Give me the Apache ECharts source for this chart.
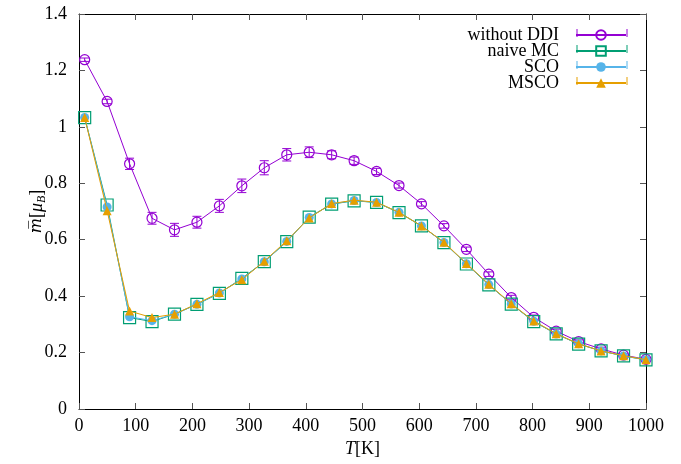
<!DOCTYPE html>
<html><head><meta charset="utf-8">
<script src="https://cdn.jsdelivr.net/npm/echarts@6/dist/echarts.min.js"></script>
<style>html,body{margin:0;padding:0;background:#fff}#c{width:681px;height:464px}</style>
</head><body><div id="c"></div>
<script>
const temperatures = [10,49.6,89.2,128.8,168.4,208,247.6,287.2,326.8,366.4,406,445.6,485.2,524.8,564.4,604,643.6,683.2,722.8,762.4,802,841.6,881.2,920.8,960.4,1000];
const mWithoutDDI = [1.238,1.090,0.869,0.676,0.635,0.662,0.720,0.791,0.855,0.901,0.910,0.901,0.880,0.842,0.792,0.727,0.649,0.566,0.478,0.395,0.325,0.276,0.239,0.213,0.191,0.176];
const errWithoutDDI = [0.006,0.008,0.020,0.021,0.023,0.021,0.023,0.024,0.025,0.022,0.019,0.014,0.013,0.011,0.009,0.008,0.008,0.008,0.008,0.008,0.008,0.007,0.006,0.006,0.005,0.005];
const mNaiveMC = [1.033,0.723,0.324,0.310,0.336,0.371,0.410,0.463,0.522,0.593,0.680,0.726,0.738,0.732,0.696,0.649,0.590,0.514,0.440,0.372,0.310,0.266,0.230,0.206,0.188,0.174];
const mSCO     = [1.033,0.716,0.327,0.313,0.336,0.371,0.411,0.461,0.522,0.594,0.679,0.727,0.739,0.732,0.697,0.649,0.590,0.515,0.441,0.372,0.311,0.266,0.231,0.206,0.188,0.175];
const mMSCO    = [1.033,0.703,0.347,0.324,0.336,0.373,0.413,0.458,0.524,0.596,0.677,0.728,0.740,0.733,0.697,0.649,0.591,0.516,0.442,0.373,0.312,0.267,0.231,0.206,0.189,0.175];
const seriesNames = ['without DDI','naive MC','SCO','MSCO'];
const xTicks = {min:0,max:1000,interval:100};
const yTicks = {min:0,max:1.4,interval:0.2};

const colors = {purple:'#9400d3', green:'#009e73', blue:'#56b4e9', orange:'#e69f00'};
const serif = '"Liberation Serif","DejaVu Serif",serif';
const FS = 18;

const chart = echarts.init(document.getElementById('c'), null, {renderer:'canvas'});
const pair = (arr)=>temperatures.map((t,i)=>[t,arr[i]]);

function errRender(color, capW){
  return function(params, api){
    const x = api.value(0), y = api.value(1), e = api.value(2);
    const lo = api.coord([x, y-e]), hi = api.coord([x, y+e]);
    const st = {stroke: color, lineWidth: 1};
    return {type:'group', children:[
      {type:'line', shape:{x1:lo[0],y1:lo[1],x2:hi[0],y2:hi[1]}, style:st},
      {type:'line', shape:{x1:lo[0]-capW,y1:lo[1],x2:lo[0]+capW,y2:lo[1]}, style:st},
      {type:'line', shape:{x1:hi[0]-capW,y1:hi[1],x2:hi[0]+capW,y2:hi[1]}, style:st}
    ]};
  };
}

const axisCommon = {
  axisLine:{show:true,onZero:false,lineStyle:{color:'#000',width:1}},
  axisTick:{show:true,inside:true,length:6,lineStyle:{color:'#555',width:1}},
  splitLine:{show:false}
};

const legendRows = [33,49,65,81];
const graphics = [];
legendRows.forEach((y,i)=>{
  const c = [colors.purple,colors.green,colors.blue,colors.orange][i];
  [577,627].forEach(x=>graphics.push({type:'line',shape:{x1:x,y1:y-4,x2:x,y2:y+4},style:{stroke:c,lineWidth:1},z:100}));
});

chart.setOption({
  animation:false,
  backgroundColor:'#fff',
  textStyle:{fontFamily:serif},
  grid:{left:79,top:14,right:35,bottom:55,containLabel:false},
  legend:{
    data:seriesNames, orient:'vertical', right:49, top:21, align:'right',
    itemWidth:50, itemHeight:12, itemGap:-2, padding:5,
    textStyle:{fontFamily:serif,fontSize:FS,color:'#000',padding:[0,12,0,0]}
  },
  xAxis:[
    Object.assign({type:'value',position:'bottom',min:xTicks.min,max:xTicks.max,interval:xTicks.interval,
      axisLabel:{color:'#000',fontFamily:serif,fontSize:FS,margin:8,formatter:v=>String(v)},
      name:'{i|T}{n|[K]}', nameLocation:'middle', nameGap:31, nameMoveOverlap:false,
      nameTextStyle:{rich:{i:{fontFamily:serif,fontStyle:'italic',fontSize:FS,color:'#000'},n:{fontFamily:serif,fontSize:FS,color:'#000'}}}
    }, axisCommon),
    Object.assign({type:'value',position:'top',min:xTicks.min,max:xTicks.max,interval:xTicks.interval,axisLabel:{show:false}}, axisCommon)
  ],
  yAxis:[
    Object.assign({type:'value',position:'left',min:yTicks.min,max:yTicks.max,interval:yTicks.interval,
      axisLabel:{color:'#000',fontFamily:serif,fontSize:FS,margin:12},
      name:'{o|m\u0305}{n|[}{i|\u03bc}{s|B}{n|]}', nameLocation:'middle', nameGap:31, nameRotate:90, nameMoveOverlap:false,
      nameTextStyle:{rich:{
        o:{fontFamily:'"DejaVu Serif"',fontStyle:'italic',fontSize:16,color:'#000',lineHeight:22},
        i:{fontFamily:serif,fontStyle:'italic',fontSize:FS,color:'#000',lineHeight:22},
        n:{fontFamily:serif,fontSize:FS,color:'#000',lineHeight:22},
        s:{fontFamily:serif,fontStyle:'italic',fontSize:12,color:'#000',verticalAlign:'bottom',lineHeight:14,padding:[7,0,0,0]}
      }}
    }, axisCommon),
    Object.assign({type:'value',position:'right',min:yTicks.min,max:yTicks.max,interval:yTicks.interval,axisLabel:{show:false}}, axisCommon)
  ],
  series:[
    {name:seriesNames[0],type:'line',data:pair(mWithoutDDI),symbol:'circle',symbolSize:10,
      itemStyle:{color:'rgba(255,255,255,0)',borderColor:colors.purple,borderWidth:1.2},
      lineStyle:{color:colors.purple,width:1},z:2},
    {name:seriesNames[0]+' err',type:'custom',data:temperatures.map((t,i)=>[t,mWithoutDDI[i],errWithoutDDI[i]]),
      renderItem:errRender(colors.purple,4.5),z:3},
    {name:seriesNames[1],type:'line',data:pair(mNaiveMC),symbol:'rect',symbolSize:12,
      itemStyle:{color:'rgba(255,255,255,0)',borderColor:colors.green,borderWidth:1.2},
      lineStyle:{color:colors.green,width:1},z:4},
    {name:seriesNames[2],type:'line',data:pair(mSCO),symbol:'circle',symbolSize:9,
      itemStyle:{color:colors.blue},lineStyle:{color:colors.blue,width:1},z:5},
    {name:seriesNames[3],type:'line',data:pair(mMSCO),symbol:'triangle',symbolSize:9,
      itemStyle:{color:colors.orange},lineStyle:{color:colors.orange,width:1},z:6}
  ],
  graphic:graphics
});
</script></body></html>
